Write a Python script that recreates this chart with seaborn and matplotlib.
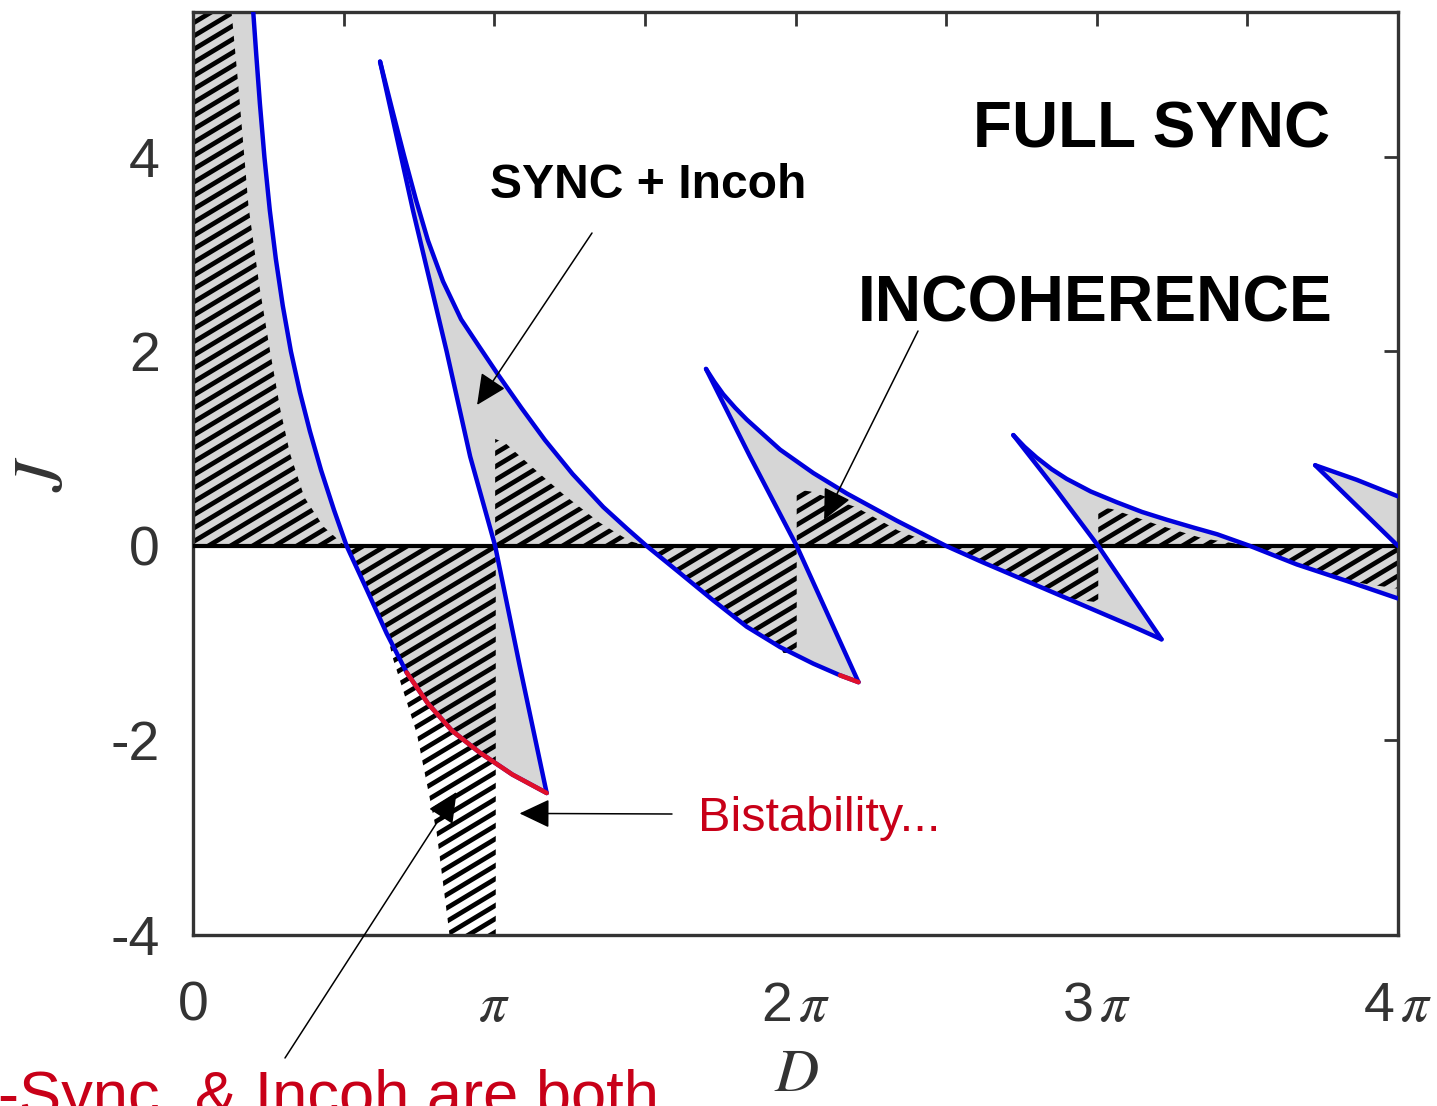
import numpy as np
import matplotlib
matplotlib.use("Agg")
import matplotlib.pyplot as plt
import seaborn as sns
from matplotlib.patches import Polygon
from matplotlib.collections import LineCollection

PI = np.pi

# ---------------- data (D in units of pi, J) ----------------
# first boundary curve (blue, red where bistable)
curve_a_d = [0.200, 0.210, 0.222, 0.237, 0.255, 0.275, 0.298, 0.325, 0.355, 0.388,
             0.425, 0.468, 0.510, 0.577, 0.643, 0.709, 0.780, 0.860, 0.950, 1.060, 1.174]
curve_a_j = [5.49, 5.05, 4.55, 4.00, 3.45, 2.95, 2.47, 2.00, 1.58, 1.18,
             0.78, 0.37, 0.00, -0.45, -0.90, -1.30, -1.62, -1.90, -2.12, -2.35, -2.54]
# tooth 1
line_b_d = [0.621, 0.731, 0.842, 0.920, 1.003, 1.085, 1.174]
line_b_j = [4.98, 3.44, 2.00, 0.92, 0.00, -1.24, -2.54]
curve_c_d = [0.621, 0.660, 0.700, 0.740, 0.780, 0.830, 0.890, 0.950, 1.013, 1.090,
             1.168, 1.260, 1.362, 1.440, 1.506, 1.617, 1.727, 1.838, 1.949, 2.059,
             2.148, 2.209]
curve_c_j = [4.98, 4.50, 4.02, 3.56, 3.14, 2.72, 2.33, 2.05, 1.76, 1.42,
             1.09, 0.74, 0.40, 0.18, 0.00, -0.28, -0.56, -0.83, -1.04, -1.21,
             -1.33, -1.40]
# tooth 2
line_d_d = [1.703, 1.849, 2.004, 2.209]
line_d_j = [1.82, 0.92, 0.00, -1.40]
curve_e_d = [1.703, 1.730, 1.760, 1.800, 1.838, 1.949, 2.059, 2.170, 2.336, 2.500,
             2.623, 2.789, 2.955, 3.121, 3.215]
curve_e_j = [1.82, 1.69, 1.56, 1.42, 1.30, 0.99, 0.75, 0.54, 0.26, 0.00,
             -0.17, -0.39, -0.61, -0.83, -0.96]
# tooth 3
line_f_d = [2.723, 2.867, 3.005, 3.215]
line_f_j = [1.14, 0.57, 0.00, -0.96]
curve_g_d = [2.723, 2.760, 2.800, 2.850, 2.900, 2.980, 3.066, 3.150, 3.232, 3.320,
             3.400, 3.509, 3.664, 3.830, 4.000]
curve_g_j = [1.14, 1.02, 0.91, 0.79, 0.69, 0.56, 0.45, 0.35, 0.27, 0.19,
             0.12, 0.00, -0.19, -0.36, -0.54]
# tooth 4
line_h_d = [3.725, 4.000]
line_h_j = [0.83, 0.00]
curve_i_d = [3.725, 3.863, 4.000]
curve_i_j = [0.83, 0.68, 0.51]

# bistable (red) parts start at these D values
red_a_from = 0.709
red_c_from = 2.148

# hatched regions (outlines)
hatch0_d = [0.0, 0.0, 0.128, 0.150, 0.184, 0.220, 0.256, 0.290, 0.322, 0.370, 0.433, 0.505]
hatch0_j = [0.0, 5.49, 5.49, 4.75, 3.50, 2.68, 2.00, 1.40, 0.95, 0.50, 0.20, 0.00]
hatch1l_d = [0.510, 0.577, 0.643, 0.665, 0.743, 0.809, 0.848, 0.855, 1.005, 1.005]
hatch1l_j = [0.00, -0.45, -0.90, -1.17, -1.93, -2.95, -3.91, -4.10, -4.10, 0.00]
hatch1u_d = [1.003, 1.003, 1.036, 1.130, 1.230, 1.350, 1.450, 1.506]
hatch1u_j = [0.00, 1.10, 1.06, 0.80, 0.53, 0.24, 0.05, 0.00]
hatch2l_d = [1.506, 1.617, 1.727, 1.838, 1.949, 1.960, 2.004, 2.004]
hatch2l_j = [0.00, -0.28, -0.56, -0.83, -1.04, -1.10, -1.10, 0.00]
hatch2u_d = [2.004, 2.004, 2.050, 2.200, 2.340, 2.450, 2.500]
hatch2u_j = [0.00, 0.58, 0.56, 0.40, 0.16, 0.03, 0.00]
hatch3l_d = [2.500, 2.623, 2.789, 2.900, 3.005, 3.005]
hatch3l_j = [0.00, -0.17, -0.39, -0.54, -0.58, 0.00]
hatch3u_d = [3.005, 3.005, 3.050, 3.200, 3.350, 3.509]
hatch3u_j = [0.00, 0.40, 0.38, 0.22, 0.08, 0.00]
hatch4l_d = [3.509, 3.664, 3.830, 4.000, 4.000]
hatch4l_j = [0.00, -0.19, -0.36, -0.44, 0.00]

x_tick_labels = ["0", "", r"$\pi$", "", r"2$\,\pi$", "", r"3$\,\pi$", "", r"4$\,\pi$"]
y_ticks = [-4, -2, 0, 2, 4]

# ---------------- style ----------------
sns.set_theme(style="white")
plt.rcParams["font.family"] = ["Liberation Sans", "DejaVu Sans"]
plt.rcParams["mathtext.fontset"] = "stix"
plt.rcParams["axes.unicode_minus"] = False

BLUE = "#0000dd"
RED = "#e0102a"
TXT_RED = "#c80018"
GRAY = "#d6d6d6"
AX_COL = "#333333"

W_PX, H_PX = 1437, 1106
fig = plt.figure(figsize=(W_PX / 100, H_PX / 100), dpi=100)
ax = fig.add_axes([193 / W_PX, 171 / H_PX, 1205 / W_PX, 923 / H_PX])
YTOP = 5.49
ax.set_xlim(0, 4 * PI)
ax.set_ylim(-4, YTOP)


def pts(d, j):
    return np.column_stack([np.asarray(d, float) * PI, np.asarray(j, float)])


def upper(p):
    return p[p[:, 1] >= 0]


def lower(p):
    return p[p[:, 1] <= 0]


A = pts(curve_a_d, curve_a_j)
B = pts(line_b_d, line_b_j)
C = pts(curve_c_d, curve_c_j)
Dl = pts(line_d_d, line_d_j)
E = pts(curve_e_d, curve_e_j)
F = pts(line_f_d, line_f_j)
G = pts(curve_g_d, curve_g_j)
H = pts(line_h_d, line_h_j)
I = pts(curve_i_d, curve_i_j)

gray_polys = [
    np.vstack([[[0, YTOP]], upper(A), [[0, 0]]]),
    np.vstack([lower(A), lower(B)[::-1]]),
    np.vstack([upper(B), upper(C)[::-1]]),
    np.vstack([lower(C), lower(Dl)[::-1]]),
    np.vstack([upper(Dl), upper(E)[::-1]]),
    np.vstack([lower(E), lower(F)[::-1]]),
    np.vstack([upper(F), upper(G)[::-1]]),
    np.vstack([lower(G), [[4 * PI, 0]]]),
    np.vstack([H, I[::-1]]),
]
for poly in gray_polys:
    ax.fill(poly[:, 0], poly[:, 1], color=GRAY, lw=0, zorder=1)

# custom hatching (thick lines ~30 degrees), clipped to each hatched region
ax_w, ax_h = 1205.0, 923.0
tan_t = np.tan(np.radians(31))
spacing = 13.3
offs = np.arange(-ax_w * tan_t - spacing, ax_h + spacing, spacing)
segs = [[(0, c / ax_h), (1, (c + ax_w * tan_t) / ax_h)] for c in offs]

hatch_sets = [(hatch0_d, hatch0_j), (hatch1l_d, hatch1l_j), (hatch1u_d, hatch1u_j),
              (hatch2l_d, hatch2l_j), (hatch2u_d, hatch2u_j), (hatch3l_d, hatch3l_j),
              (hatch3u_d, hatch3u_j), (hatch4l_d, hatch4l_j)]
for hd, hj in hatch_sets:
    patch = Polygon(pts(hd, hj), closed=True, transform=ax.transData,
                    facecolor="none", edgecolor="none", lw=0)
    ax.add_patch(patch)
    lc = LineCollection(segs, colors="black", linewidths=3.4, transform=ax.transAxes,
                        zorder=2, capstyle="butt")
    ax.add_collection(lc)
    lc.set_clip_path(patch)

ax.axhline(0, color="black", lw=3, zorder=3)

for crv in [A, B, C, Dl, E, F, G, H, I]:
    sns.lineplot(x=crv[:, 0], y=crv[:, 1], sort=False, estimator=None, color=BLUE,
                 lw=3.2, ax=ax, zorder=4, legend=False)
for crv, start in [(A, red_a_from), (C, red_c_from)]:
    seg = crv[crv[:, 0] >= start * PI - 1e-9]
    sns.lineplot(x=seg[:, 0], y=seg[:, 1], sort=False, estimator=None, color=RED,
                 lw=3.3, ax=ax, zorder=5, legend=False)

# axes styling
ax.set_xticks(np.arange(0, 9) * PI / 2)
ax.set_xticklabels(x_tick_labels)
ax.set_yticks(y_ticks)
ax.set_yticklabels([str(v) for v in y_ticks])
ax.tick_params(direction="in", length=10, width=2, top=True, right=True,
               labelsize=40, colors=AX_COL)
ax.tick_params(axis="x", pad=33)
ax.tick_params(axis="y", pad=24)
for sp in ax.spines.values():
    sp.set_color(AX_COL)
    sp.set_linewidth(2.4)
    sp.set_visible(True)

ax.set_xlabel(r"$D$", fontsize=44, color=AX_COL)
ax.xaxis.set_label_coords(0.501, -0.121)
ax.set_ylabel(r"$J$", fontsize=50, color=AX_COL)
ax.yaxis.set_label_coords(-0.097, 0.50)

# annotations
def fpx(x, y):
    return (x / W_PX, 1 - y / H_PX)

fig.text(*fpx(1330, 148), "FULL SYNC", ha="right", va="baseline", fontsize=46,
         fontweight="bold", color="black")
fig.text(*fpx(490, 198), "SYNC + Incoh", ha="left", va="baseline", fontsize=34.6,
         fontweight="bold", color="black")
fig.text(*fpx(1333, 322), "INCOHERENCE", ha="right", va="baseline", fontsize=46.3,
         fontweight="bold", color="black")
fig.text(*fpx(698, 831), "Bistability...", ha="left", va="baseline", fontsize=35,
         color=TXT_RED)
fig.text(*fpx(-2, 1115), "-Sync. & Incoh are both", ha="left", va="baseline",
         fontsize=45.5, color=TXT_RED)

arrow_kw = dict(arrowstyle="-|>,head_length=0.95,head_width=0.45", mutation_scale=20,
                lw=1.1, color="black", shrinkA=0, shrinkB=0)
for tip, tail in [((0.943, 1.45), (592, 233)), ((2.095, 0.27), (918, 331)),
                  ((1.084, -2.75), (672, 814)), ((0.875, -2.53), (285, 1058))]:
    ax.annotate("", xy=(tip[0] * PI, tip[1]), xycoords="data",
                xytext=fpx(*tail), textcoords="figure fraction",
                arrowprops=arrow_kw, annotation_clip=False, zorder=6)

fig.savefig("out.png", dpi=100)
